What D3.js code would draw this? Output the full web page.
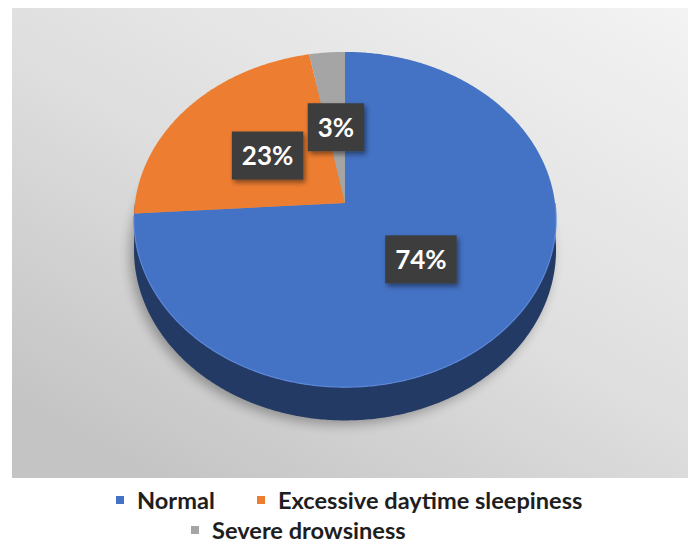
<!DOCTYPE html>
<html>
  <head>
    <meta charset="utf-8" />
    <title>3D pie</title>
    <script src="https://d3js.org/d3.v7.min.js"></script>
    <style>
      body { margin: 0; background: #fff; }
      text { font-family: Lato, "Noto Sans", sans-serif; }
    </style>
  </head>
  <body>
    <script>
      // data
      const categories = ["Normal", "Excessive daytime sleepiness", "Severe drowsiness"];
      const values = [74, 23, 3];
      const colors = ["#4472c4", "#ed7d31", "#a5a5a5"];

      const width = 691, height = 542;

      const svg = d3.select("body").append("svg")
        .attr("width", width)
        .attr("height", height);

      const defs = svg.append("defs");

      // panel background gradient
      const bg = defs.append("linearGradient").attr("id", "bg")
        .attr("x1", "1").attr("y1", "0").attr("x2", "0.2").attr("y2", "1");
      bg.append("stop").attr("offset", "0").attr("stop-color", "#f3f3f3");
      bg.append("stop").attr("offset", "0.55").attr("stop-color", "#dedede");
      bg.append("stop").attr("offset", "1").attr("stop-color", "#c4c4c4");

      const blur = defs.append("filter").attr("id", "blur")
        .attr("x", "-30%").attr("y", "-30%").attr("width", "160%").attr("height", "160%");
      blur.append("feGaussianBlur").attr("stdDeviation", 6);

      const boxShadow = defs.append("filter").attr("id", "boxShadow")
        .attr("x", "-30%").attr("y", "-30%").attr("width", "160%").attr("height", "160%");
      boxShadow.append("feDropShadow")
        .attr("dx", 2).attr("dy", 3).attr("stdDeviation", 2.5)
        .attr("flood-color", "#000").attr("flood-opacity", 0.45);

      svg.append("rect")
        .attr("x", 12).attr("y", 8)
        .attr("width", 676).attr("height", 470)
        .attr("fill", "url(#bg)");

      // perspective projection of a tilted disk
      const cx = 345, cy = 203;
      const A = 210, B = 166, p = 0.0985, depth = 30;
      function proj(a, f, drop) {
        const u = f * Math.sin(a), v = -f * Math.cos(a);
        const k = 1 / (1 - p * v);
        return [cx + A * u * k, cy + B * v * k + (drop ? depth * k : 0)];
      }
      function arcPts(a0, a1, drop) {
        const n = Math.max(2, Math.ceil(Math.abs(a1 - a0) / 0.01));
        return d3.range(n + 1).map(i => proj(a0 + (a1 - a0) * i / n, 1, drop));
      }
      const line = d3.line();

      const pie = d3.pie().sort(null).value(d => d)(values);

      // soft shadow around the pie
      svg.append("path")
        .attr("d", line(arcPts(0, 2 * Math.PI, true)) + "Z")
        .attr("transform", "translate(-4,4)")
        .attr("fill", "#000").attr("opacity", 0.3)
        .attr("filter", "url(#blur)");

      // side walls (front half only)
      pie.forEach((d, i) => {
        const a0 = Math.max(d.startAngle, Math.PI / 2);
        const a1 = Math.min(d.endAngle, 3 * Math.PI / 2);
        if (a1 <= a0) return;
        const pts = arcPts(a0, a1, false).concat(arcPts(a1, a0, true));
        svg.append("path")
          .attr("d", line(pts) + "Z")
          .attr("fill", d3.color(colors[i]).darker(1.9));
      });

      // top faces
      pie.forEach((d, i) => {
        const pts = [[cx, cy]].concat(arcPts(d.startAngle, d.endAngle, false));
        svg.append("path")
          .attr("d", line(pts) + "Z")
          .attr("fill", colors[i]);
      });

      // light rim on the front edge
      svg.append("path")
        .attr("d", line(arcPts(Math.PI / 2, 3 * Math.PI / 2 - 0.08, false)))
        .attr("fill", "none")
        .attr("stroke", "#5b87d8").attr("stroke-width", 1.2);

      // data labels
      pie.forEach((d, i) => {
        const [lx, ly] = proj((d.startAngle + d.endAngle) / 2, 0.48, false);
        const g = svg.append("g").attr("transform", `translate(${lx},${ly})`);
        const rect = g.append("rect").attr("fill", "#3d3d3d").attr("filter", "url(#boxShadow)");
        const t = g.append("text")
          .attr("text-anchor", "middle")
          .attr("dy", "0.36em")
          .attr("fill", "#fff")
          .attr("font-weight", "bold")
          .attr("font-size", 26)
          .text(d.data + "%");
        const w = t.node().getComputedTextLength() + 20;
        rect.attr("x", -w / 2).attr("y", -24).attr("width", w).attr("height", 48);
      });

      // legend
      const legendPos = [[116, 500], [257, 500], [191, 530]];
      const legend = svg.append("g").selectAll("g")
        .data(categories)
        .join("g")
        .attr("transform", (d, i) => `translate(${legendPos[i][0]},${legendPos[i][1]})`);
      legend.append("rect")
        .attr("x", 0).attr("y", -4)
        .attr("width", 8).attr("height", 8)
        .attr("fill", (d, i) => colors[i]);
      legend.append("text")
        .attr("x", 21).attr("dy", "0.36em")
        .attr("font-size", 23.6)
        .attr("font-weight", "bold")
        .attr("fill", "#1e1e1e")
        .text(d => d);
    </script>
  </body>
</html>
